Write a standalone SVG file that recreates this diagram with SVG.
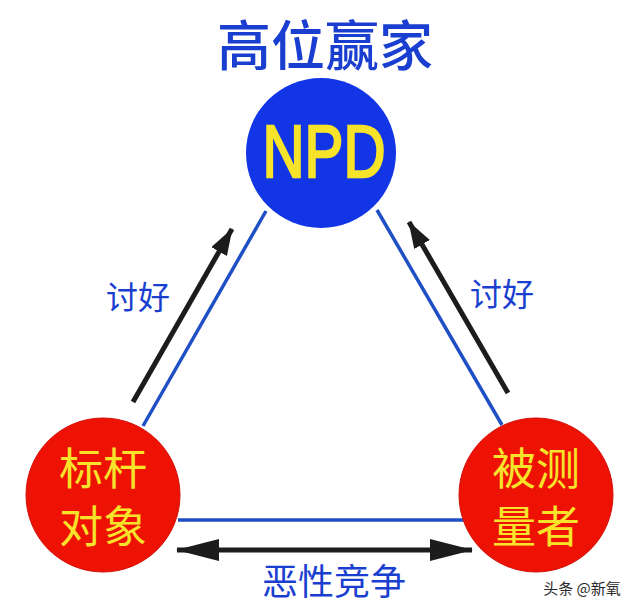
<svg xmlns="http://www.w3.org/2000/svg" width="640" height="610" viewBox="0 0 640 610">
<style>
.cjk{font-family:"Noto Sans CJK SC","Noto Sans",sans-serif}
.blue{fill:#1a3fd0}
.yel{fill:#f7e42a}
.edge{stroke:#1f4fc4;stroke-width:3.5;fill:none}
.arr{stroke:#1c1c1c;stroke-width:5;fill:none}
</style>
<defs>
<marker id="ah" viewBox="0 0 27 18" refX="26" refY="9" markerWidth="27" markerHeight="18" orient="auto" markerUnits="userSpaceOnUse">
<path d="M0,0 L27,9 L0,18 z" fill="#1c1c1c"/>
</marker>
<marker id="ah2" viewBox="0 0 43 22" refX="42" refY="11" markerWidth="43" markerHeight="22" orient="auto-start-reverse" markerUnits="userSpaceOnUse">
<path d="M0,0 L43,11 L0,22 z" fill="#1c1c1c"/>
</marker>
</defs>
<rect width="640" height="610" fill="#ffffff"/>
<text x="325" y="66" class="cjk blue" font-size="54" text-anchor="middle" font-weight="500">高位赢家</text>
<g id="connectors">
<line class="edge" x1="143" y1="426" x2="266" y2="211"/>
<line class="edge" x1="377" y1="210" x2="502" y2="425"/>
<line class="edge" x1="178" y1="520" x2="464" y2="520"/>
<line class="arr" x1="133" y1="402" x2="232" y2="229" marker-end="url(#ah)"/>
<line class="arr" x1="508" y1="393" x2="409" y2="222" marker-end="url(#ah)"/>
<line class="arr" x1="177" y1="550" x2="472" y2="550" stroke-width="7" marker-start="url(#ah2)" marker-end="url(#ah2)"/>
<text x="138" y="309" class="cjk blue" font-size="32" text-anchor="middle">讨好</text>
<text x="502" y="306" class="cjk blue" font-size="32" text-anchor="middle">讨好</text>
<text x="334" y="595" class="cjk blue" font-size="36" text-anchor="middle">恶性竞争</text>
</g>
<g id="npd">
<circle cx="321" cy="153" r="75" fill="#1236e6"/>
<text x="324" y="177" font-family="Liberation Sans,Arial,sans-serif" font-size="74" class="yel" stroke="#f7e42a" stroke-width="2.5" text-anchor="middle" textLength="123" lengthAdjust="spacingAndGlyphs">NPD</text>
</g>
<g id="benchmark">
<circle cx="103" cy="495" r="77" fill="#ee1205" stroke="#d40f08" stroke-width="1"/>
<text x="103" y="485" class="cjk yel" font-size="44" text-anchor="middle">标杆</text>
<text x="103" y="543" class="cjk yel" font-size="44" text-anchor="middle">对象</text>
</g>
<g id="measured">
<circle cx="536" cy="495" r="77" fill="#ee1205" stroke="#d40f08" stroke-width="1"/>
<text x="536" y="485" class="cjk yel" font-size="44" text-anchor="middle">被测</text>
<text x="536" y="543" class="cjk yel" font-size="44" text-anchor="middle">量者</text>
</g>
<text x="582" y="594" class="cjk" font-size="15" fill="#2a2a2a" text-anchor="middle" stroke="#ffffff" stroke-width="2" paint-order="stroke">头条 @新氧</text>
</svg>
